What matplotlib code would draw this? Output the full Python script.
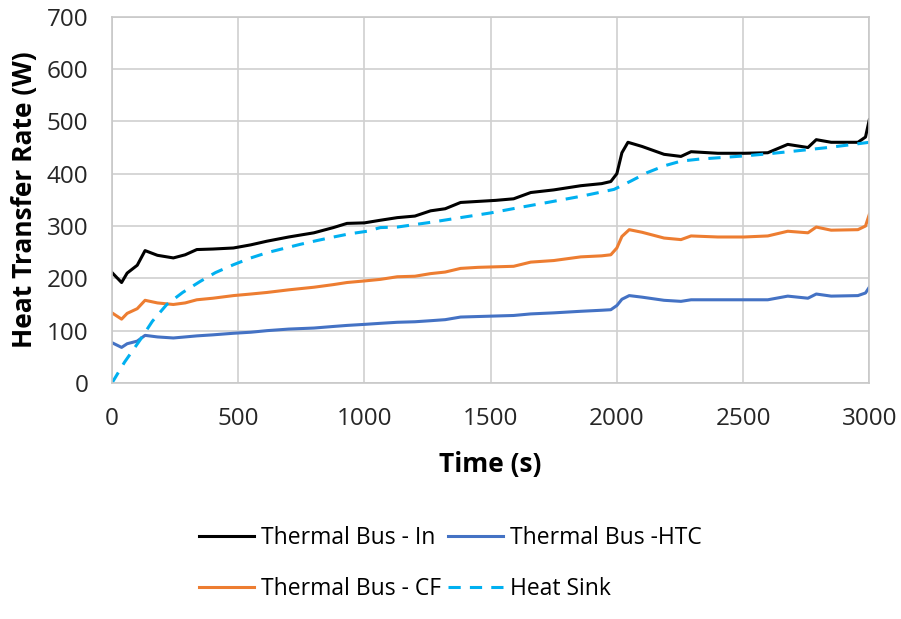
import matplotlib
matplotlib.use("Agg")
import matplotlib.pyplot as plt

plt.rcParams['font.family'] = ['Open Sans', 'DejaVu Sans']

# Thermal Bus - In
t_in = [0, 38, 60, 100, 131, 180, 243, 290, 336, 400, 481, 550, 614, 700, 800, 877, 931, 1000,
        1063, 1130, 1200, 1262, 1320, 1381, 1450, 1520, 1591, 1659, 1750, 1857, 1940, 1976,
        2000, 2020, 2044, 2100, 2187, 2254, 2294, 2400, 2504, 2598, 2677, 2757, 2790, 2849,
        2955, 2985, 3000]
q_in = [211, 192, 210, 225, 253, 244, 239, 245, 255, 256, 258, 264, 271, 279, 287, 297, 305, 306,
        311, 316, 319, 329, 333, 345, 347, 349, 352, 364, 369, 377, 381, 385,
        400, 440, 460, 452, 437, 433, 442, 439, 439, 440, 456, 450, 465, 460,
        460, 470, 503]

# Thermal Bus - CF
t_cf = [0, 38, 60, 100, 131, 180, 243, 290, 336, 400, 481, 550, 614, 700, 800, 877, 931, 1000,
        1063, 1130, 1200, 1262, 1320, 1381, 1450, 1520, 1591, 1659, 1750, 1857, 1940, 1976,
        2000, 2020, 2049, 2100, 2187, 2254, 2294, 2400, 2504, 2598, 2677, 2757, 2790, 2849,
        2955, 2985, 3000]
q_cf = [134, 122, 133, 142, 158, 153, 150, 153, 159, 162, 167, 170, 173, 178, 183, 188, 192, 195,
        198, 203, 204, 209, 212, 219, 221, 222, 223, 231, 234, 241, 243, 245,
        258, 280, 293, 288, 277, 274, 281, 279, 279, 281, 290, 287, 298, 292,
        293, 300, 322]

# Thermal Bus -HTC
t_htc = [0, 38, 60, 100, 131, 180, 243, 290, 336, 400, 481, 550, 614, 700, 800, 877, 931, 1000,
         1063, 1130, 1200, 1262, 1320, 1381, 1450, 1520, 1591, 1659, 1750, 1857, 1940, 1976,
         2000, 2020, 2049, 2100, 2187, 2254, 2294, 2400, 2504, 2598, 2677, 2757, 2790, 2849,
         2955, 2985, 3000]
q_htc = [77, 68, 75, 80, 91, 88, 86, 88, 90, 92, 95, 97, 100, 103, 105, 108, 110, 112,
         114, 116, 117, 119, 121, 126, 127, 128, 129, 132, 134, 137, 139, 140,
         148, 160, 167, 164, 158, 156, 159, 159, 159, 159, 166, 162, 170, 166,
         167, 172, 183]

# Heat Sink
t_hs = [0, 50, 111, 160, 217, 280, 349, 410, 481, 550, 614, 680, 746, 810, 878, 940, 1011,
        1063, 1130, 1262, 1380, 1500, 1610, 1725, 1860, 1989, 2056, 2120, 2188, 2254, 2330,
        2420, 2505, 2600, 2700, 2836, 2920, 3000]
q_hs = [0, 40, 82, 118, 150, 173, 194, 211, 226, 239, 249, 257, 265, 272, 279, 285, 290,
        297, 298, 307, 316, 325, 335, 345, 357, 370, 386, 402, 415, 424, 428,
        431, 434, 438, 443, 450, 455, 460]

x_ticks = [0, 500, 1000, 1500, 2000, 2500, 3000]
y_ticks = [0, 100, 200, 300, 400, 500, 600, 700]

fig = plt.figure(figsize=(9.01, 6.19), dpi=100)
ax = fig.add_axes([0.1243, 0.3813, 0.8405, 0.5917])

lw = 2.2
h_in, = ax.plot(t_in, q_in, color='#000000', lw=lw, label='Thermal Bus - In')
h_cf, = ax.plot(t_cf, q_cf, color='#ED7D31', lw=lw, label='Thermal Bus - CF')
h_htc, = ax.plot(t_htc, q_htc, color='#4472C4', lw=lw, label='Thermal Bus -HTC')
h_hs, = ax.plot(t_hs, q_hs, color='#00B0F0', lw=lw, ls=(0, (4, 3)), label='Heat Sink')

ax.set_xlim(0, 3000)
ax.set_ylim(0, 700)
ax.set_xticks(x_ticks)
ax.set_yticks(y_ticks)
ax.tick_params(length=0, labelsize=17.5, colors='#262626')
ax.tick_params(axis='y', pad=17)
ax.tick_params(axis='x', pad=17)
ax.grid(True, color='#D0D0D0', lw=1.2)
ax.set_axisbelow(True)
for s in ax.spines.values():
    s.set_color('#C8C8C8')
    s.set_linewidth(1.2)

ax.set_xlabel('Time (s)', fontsize=19, fontweight='bold', labelpad=15)
ax.set_ylabel('Heat Transfer Rate (W)', fontsize=19, fontweight='bold', labelpad=6)

fig.legend(handles=[h_in, h_cf, h_htc, h_hs], ncol=2, loc='center',
           bbox_to_anchor=(0.5, 0.09), frameon=False, fontsize=16.5,
           handlelength=2.4, handletextpad=0.3, columnspacing=0.3,
           labelspacing=1.2)

fig.savefig('out.png', dpi=100)
